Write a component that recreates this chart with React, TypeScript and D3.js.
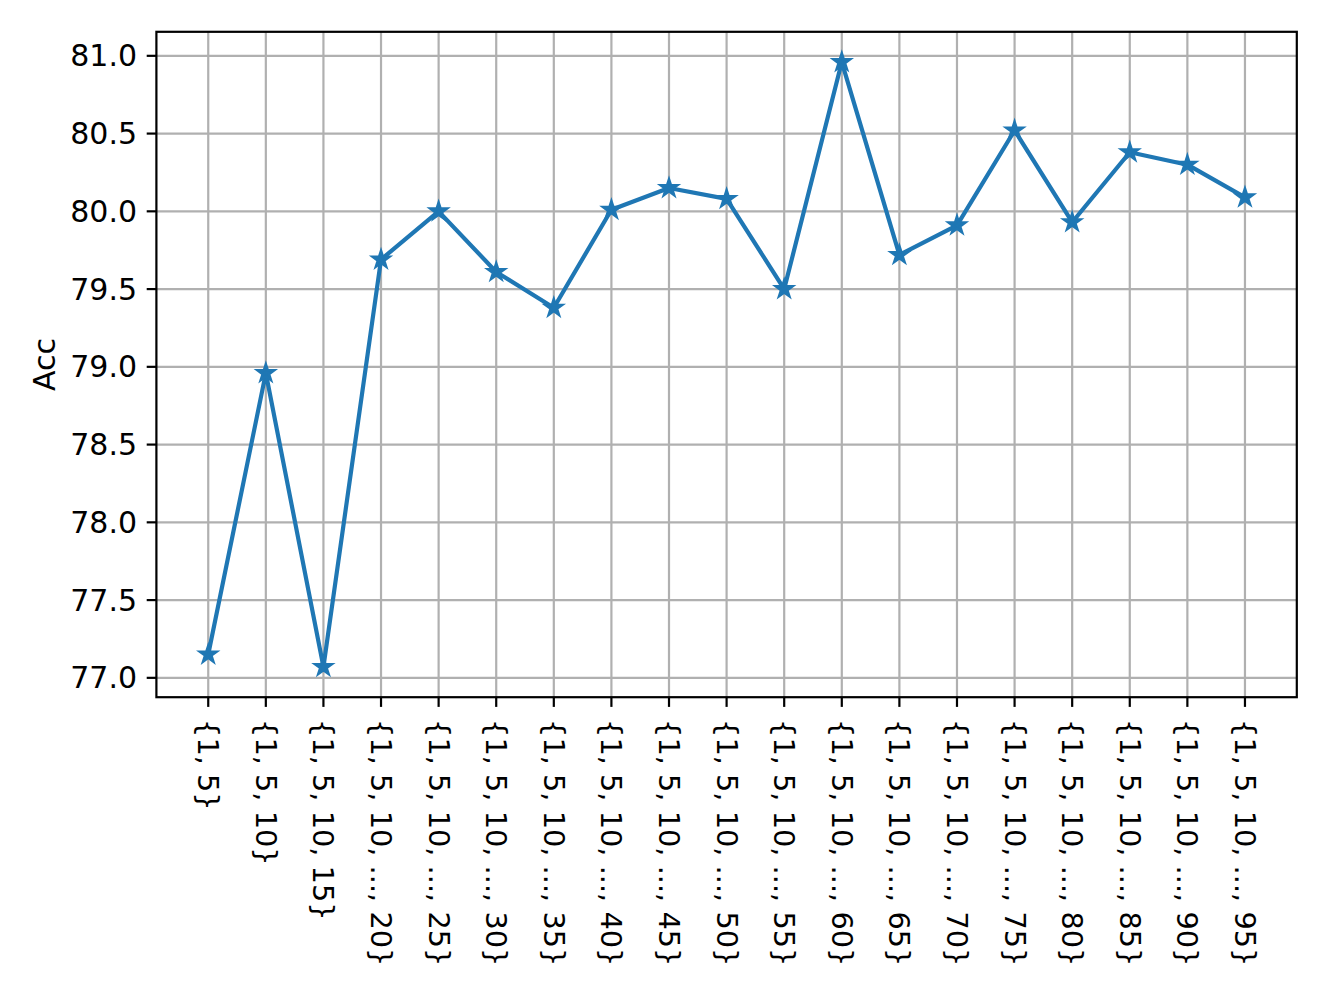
import React from "react";
import * as d3 from "d3";

const categories: string[] = [
  "{1, 5}",
  "{1, 5, 10}",
  "{1, 5, 10, 15}",
  "{1, 5, 10, ..., 20}",
  "{1, 5, 10, ..., 25}",
  "{1, 5, 10, ..., 30}",
  "{1, 5, 10, ..., 35}",
  "{1, 5, 10, ..., 40}",
  "{1, 5, 10, ..., 45}",
  "{1, 5, 10, ..., 50}",
  "{1, 5, 10, ..., 55}",
  "{1, 5, 10, ..., 60}",
  "{1, 5, 10, ..., 65}",
  "{1, 5, 10, ..., 70}",
  "{1, 5, 10, ..., 75}",
  "{1, 5, 10, ..., 80}",
  "{1, 5, 10, ..., 85}",
  "{1, 5, 10, ..., 90}",
  "{1, 5, 10, ..., 95}",
];

const accValues: number[] = [
  77.15, 78.96, 77.07, 79.69, 80.0, 79.61, 79.38, 80.01, 80.15, 80.08, 79.5,
  80.96, 79.72, 79.91, 80.52, 79.93, 80.38, 80.3, 80.09,
];

const yTicks: number[] = [77.0, 77.5, 78.0, 78.5, 79.0, 79.5, 80.0, 80.5, 81.0];

const W = 1328;
const H = 996;
const left = 156.4;
const right = 1296.8;
const top = 31.8;
const bottom = 697.2;
const FONT = "'DejaVu Sans', sans-serif";
const FS = 30;
const FSX = 28.8;
const COLOR = "#1f77b4";

function starPath(r: number): string {
  const inner = r * 0.381966;
  const pts: [number, number][] = [];
  for (let k = 0; k < 10; k++) {
    const a = (-90 + k * 36) * (Math.PI / 180);
    const rr = k % 2 === 0 ? r : inner;
    pts.push([rr * Math.cos(a), rr * Math.sin(a)]);
  }
  return "M" + pts.map((p) => p[0].toFixed(3) + "," + p[1].toFixed(3)).join("L") + "Z";
}

export default function App() {
  const n = categories.length;
  const x = d3.scaleLinear().domain([-0.9, n - 1 + 0.9]).range([left, right]);
  const ymin = d3.min(accValues) as number;
  const ymax = d3.max(accValues) as number;
  const pad = (ymax - ymin) * 0.05;
  const y = d3.scaleLinear().domain([ymin - pad, ymax + pad]).range([bottom, top]);

  const line = d3
    .line<number>()
    .x((_, i) => x(i))
    .y((d) => y(d));

  const star = starPath(8.35);
  const tickLen = 9.7;
  const tickPad = 9.7;
  const xLabY = bottom + tickLen + tickPad + 2.5;

  return (
    <svg
      width={W}
      height={H}
      style={{ position: "absolute", left: 0, top: 0, background: "#fff" }}
      fontFamily={FONT}
    >
      <rect x={0} y={0} width={W} height={H} fill="#fff" />
      <g stroke="#b0b0b0" strokeWidth={2.2}>
        {categories.map((_, i) => (
          <line key={"gx" + i} x1={x(i)} x2={x(i)} y1={top} y2={bottom} />
        ))}
        {yTicks.map((t) => (
          <line key={"gy" + t} x1={left} x2={right} y1={y(t)} y2={y(t)} />
        ))}
      </g>
      <path
        d={line(accValues) || ""}
        fill="none"
        stroke={COLOR}
        strokeWidth={4.2}
        strokeLinejoin="round"
        strokeLinecap="square"
      />
      {accValues.map((v, i) => (
        <path
          key={"m" + i}
          d={star}
          transform={`translate(${x(i)},${y(v)})`}
          fill={COLOR}
          stroke={COLOR}
          strokeWidth={2.78}
          strokeLinejoin="miter"
        />
      ))}
      <rect
        x={left}
        y={top}
        width={right - left}
        height={bottom - top}
        fill="none"
        stroke="#000"
        strokeWidth={2.2}
        strokeLinecap="square"
      />
      {yTicks.map((t) => (
        <g key={"yt" + t}>
          <line x1={left - tickLen} x2={left} y1={y(t)} y2={y(t)} stroke="#000" strokeWidth={2.2} />
          <text
            x={left - tickLen - tickPad}
            y={y(t)}
            textAnchor="end"
            dominantBaseline="central"
            fontSize={FS}
            fill="#000"
          >
            {t.toFixed(1)}
          </text>
        </g>
      ))}
      {categories.map((c, i) => (
        <g key={"xt" + i}>
          <line x1={x(i)} x2={x(i)} y1={bottom} y2={bottom + tickLen} stroke="#000" strokeWidth={2.2} />
          <text
            x={x(i)}
            y={xLabY}
            transform={`rotate(90, ${x(i)}, ${xLabY})`}
            textAnchor="start"
            dominantBaseline="central"
            fontSize={FSX}
            fill="#000"
          >
            {c}
          </text>
        </g>
      ))}
      <text
        x={55}
        y={(top + bottom) / 2}
        transform={`rotate(-90, 55, ${(top + bottom) / 2})`}
        textAnchor="middle"
        fontSize={FS}
        fill="#000"
      >
        Acc
      </text>
    </svg>
  );
}
